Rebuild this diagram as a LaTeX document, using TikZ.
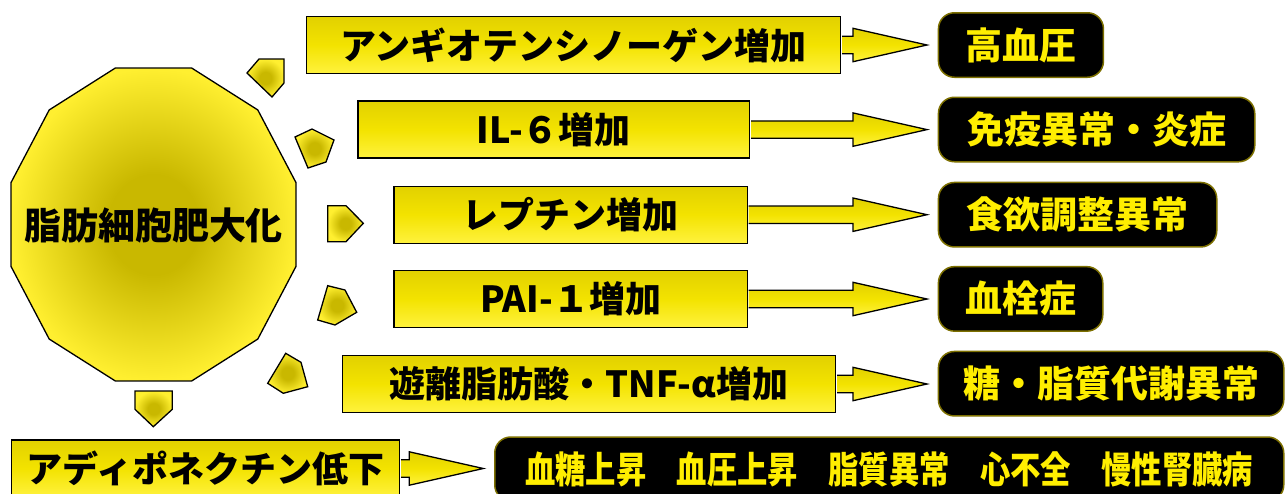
\documentclass[tikz,border=0pt]{standalone}
\usepackage{fontspec}
\newfontfamily\jp{Noto Sans CJK JP}
\usetikzlibrary{calc}
\definecolor{ydark}{HTML}{E2D100}
\definecolor{ymid}{HTML}{F3E300}
\definecolor{ylight}{HTML}{FFF23E}
\definecolor{cdark}{HTML}{C9B800}
\definecolor{clight}{HTML}{FFEF30}
\definecolor{txty}{HTML}{FFEE00}
\definecolor{olive}{HTML}{7D7000}
\pgfdeclareradialshading{cellshade}{\pgfpoint{0bp}{0bp}}{color(0bp)=(cdark); color(8bp)=(cdark); color(25bp)=(clight); color(50bp)=(clight)}
\newcommand\blockarrow[2]{%
  \path (#1.east) coordinate (as) ($(#2.west)+(-10.7,0)$) coordinate (at);
  \coordinate (tip) at (at |- as);
  \draw[arrowsty] ($(as)+(0.7,-8.7)$) -- ($(tip)+(-74,-8.7)$) -- ($(tip)+(-74,-16.7)$) -- (tip)
     -- ($(tip)+(-74,16.7)$) -- ($(tip)+(-74,8.7)$) -- ($(as)+(0.7,8.7)$);
}
\tikzset{
  x=1pt, y=-1pt,
  ybox/.style={draw=black, line width=1.3pt, top color=ydark, bottom color=ylight, middle color=ymid,
    font=\jp\bfseries\fontsize{36}{36}\selectfont, text=black, minimum height=57, inner sep=0pt, anchor=west},
  rbox/.style={fill=black, draw=olive, line width=1.5pt, rounded corners=16pt, text=txty,
    font=\jp\bfseries\fontsize{37}{37}\selectfont, minimum height=64.5, inner sep=0pt, anchor=west},
  arrowsty/.style={draw=black, line width=1.3pt, line join=miter, top color=ydark, bottom color=ylight, middle color=ymid},
  pent/.style={draw=black, line width=1.3pt, shading=cellshade, line join=miter},
}
\begin{document}
\begin{tikzpicture}
\useasboundingbox (0,0) rectangle (1286,493);
\fill[white] (0,0) rectangle (1286,493);
\clip (0,0) rectangle (1286,493);
% central dodecagon
\path[pent, shade] (153.5+147.5*cos 15, 224.5-162*sin 15)
  \foreach \a in {45,75,...,345} { -- (153.5+147.5*cos \a, 224.5-162*sin \a) } -- cycle;
\node[font=\jp\bfseries\fontsize{37}{37}\selectfont, inner sep=0pt] (cell) at (153.5,226) {脂肪細胞肥大化};
% small pentagon arrows
\path[pent, shade] (247,73) -- (259,59) -- (284,59) -- (284,83) -- (272,97) -- cycle;
\path[pent, shade] (295,137) -- (312,129) -- (334,140) -- (326,162) -- (308,168) -- cycle;
\path[pent, shade] (327.7,205.7) -- (346,205.7) -- (363.3,223.3) -- (346,241.7) -- (327.7,241.7) -- cycle;
\path[pent, shade] (327.7,285.7) -- (345,290) -- (356.7,312.3) -- (335,325) -- (317.7,320) -- cycle;
\path[pent, shade] (285.7,353.3) -- (301,362.3) -- (307.7,386.7) -- (283.3,393.3) -- (267.7,383.3) -- cycle;
\path[pent, shade] (135,391) -- (172.3,391) -- (172.3,409.3) -- (153.3,426.7) -- (135,409.3) -- cycle;
% yellow boxes
\node[ybox, minimum width=534] (b1) at (306,45) {アンギオテンシノーゲン増加};
\node[ybox, minimum width=391.7] (b2) at (357.3,129.6) {IL-６増加};
\node[ybox, minimum width=353.4] (b3) at (393.3,214.7) {レプチン増加};
\node[ybox, minimum width=353.4] (b4) at (393.3,299) {PAI-１増加};
\node[ybox, minimum width=493.3] (b5) at (341.7,384) {遊離脂肪酸・TNF-α増加};
\node[ybox, minimum width=388] (b6) at (11,468.5) {アディポネクチン低下};
% black result boxes
\node[rbox, minimum width=165] (r1) at (937.7,45) {高血圧};
\node[rbox, minimum width=316.3] (r2) at (937.7,129.5) {免疫異常・炎症};
\node[rbox, minimum width=278.3] (r3) at (937.7,214.7) {食欲調整異常};
\node[rbox, minimum width=164.3] (r4) at (937.7,298.9) {血栓症};
\node[rbox, minimum width=345.3] (r5) at (937.7,383.7) {糖・脂質代謝異常};
\node[rbox, minimum width=789, minimum height=64] (r6) at (494,469) {\scalebox{0.82}[1]{血糖上昇　血圧上昇　脂質異常　心不全　慢性腎臓病}};
% arrows
\blockarrow{b1}{r1}
\blockarrow{b2}{r2}
\blockarrow{b3}{r3}
\blockarrow{b4}{r4}
\blockarrow{b5}{r5}
\blockarrow{b6}{r6}
\end{tikzpicture}
\end{document}
